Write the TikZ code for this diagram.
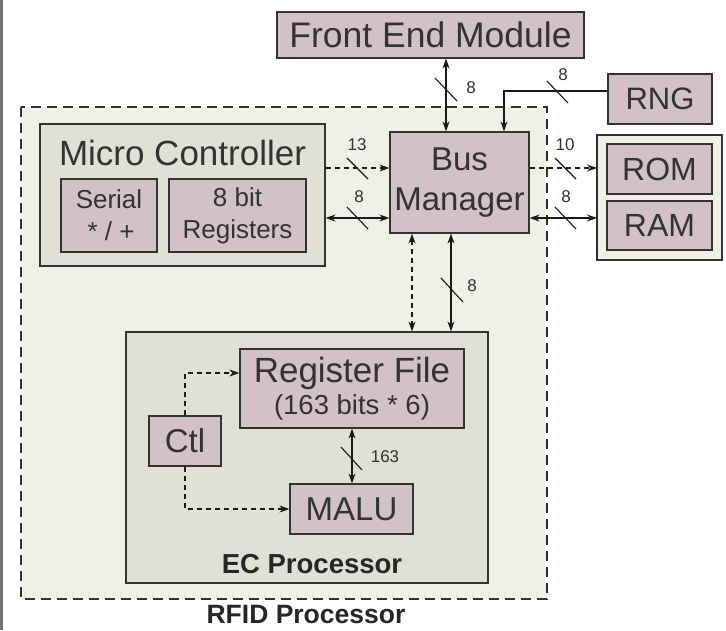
\documentclass[tikz,border=0pt]{standalone}
\usepackage{fontspec}
\setmainfont{Liberation Sans}
\usetikzlibrary{arrows.meta,calc}
\definecolor{pinkfill}{HTML}{D3C1C8}
\definecolor{greyfill}{HTML}{E0E0D5}
\definecolor{beige}{HTML}{F0F0E6}
\definecolor{edge}{HTML}{333333}
\tikzset{
  x=1pt,y=-1pt,
  pinkbox/.style={draw=edge,line width=1.2pt,fill=pinkfill,inner sep=0pt,align=center,text=black!80},
  greybox/.style={draw=edge,line width=1.2pt,fill=greyfill},
  conn/.style={draw=black!90,line width=1.1pt},
  tipboth/.style={conn,{Stealth[length=10pt,width=7pt]}-{Stealth[length=10pt,width=7pt]}},
  tipend/.style={conn,-{Stealth[length=10pt,width=7pt]}},
  dashline/.style={dash pattern=on 5pt off 4pt},
  slashmark/.style={draw=black!90,line width=1.1pt},
  wlabel/.style={font=\fontsize{17}{17}\selectfont,inner sep=0pt,text=black!80},
}
\begin{document}
\begin{tikzpicture}
\useasboundingbox (0,0) rectangle (726,630);
\fill[white] (0,0) rectangle (726,630);
\fill[black!55] (0,0) rectangle (2.5,630);
% RFID region
\draw[fill=beige,draw=edge,line width=1.3pt,dash pattern=on 10pt off 6pt] (21,107) rectangle (547,599);
\node[font=\bfseries\fontsize{26.5}{26.5}\selectfont,text=black!85,inner sep=0pt] (rfid) at (306,615) {RFID Processor};
% ROM/RAM outer
\draw[fill=beige,draw=edge,line width=1.1pt] (597,135) rectangle (722,260);
% Micro controller
\node[greybox,minimum width=285pt,minimum height=142pt,inner sep=0pt] (mc) at (182.5,195) {};
\node[font=\fontsize{35}{35}\selectfont,text=black!80] (mctitle) at (182.5,153) {Micro Controller};
\node[pinkbox,minimum width=96pt,minimum height=73pt,font=\fontsize{26}{32}\selectfont] (serial) at (109,215.5) {Serial\\ \,* / +};
\node[pinkbox,minimum width=137pt,minimum height=73pt,font=\fontsize{26}{32}\selectfont] (reg8) at (237.5,215.5) {8 bit\\Registers};
% Front end, RNG, Bus manager, ROM, RAM
\node[pinkbox,minimum width=307pt,minimum height=46pt,font=\fontsize{35.5}{35.5}\selectfont] (fem) at (430.5,35) {Front End Module};
\node[pinkbox,minimum width=104pt,minimum height=50pt,font=\fontsize{31}{31}\selectfont] (rng) at (660,99) {RNG};
\node[pinkbox,minimum width=139pt,minimum height=101pt,font=\fontsize{33}{40}\selectfont] (bm) at (459.5,182.5) {Bus\\Manager};
\node[pinkbox,minimum width=105pt,minimum height=50pt,font=\fontsize{32}{32}\selectfont] (rom) at (659.5,169) {ROM};
\node[pinkbox,minimum width=105pt,minimum height=49pt,font=\fontsize{32}{32}\selectfont] (ram) at (659.5,225.5) {RAM};
\coordinate (romram) at (597,197);
% EC processor
\node[greybox,minimum width=362pt,minimum height=251pt,inner sep=0pt] (ec) at (307,457.5) {};
\node[font=\bfseries\fontsize{27.5}{27.5}\selectfont,text=black!85] (ectitle) at (312,564) {EC Processor};
\node[pinkbox,minimum width=224pt,minimum height=79pt,font=\fontsize{35}{35}\selectfont] (rf) at (352,388.5) {Register File\\[-3pt]{\fontsize{27.5}{27.5}\selectfont (163 bits * 6)}};
\node[pinkbox,minimum width=72pt,minimum height=50pt,font=\fontsize{33}{33}\selectfont] (ctl) at (185,441) {Ctl};
\node[pinkbox,minimum width=123pt,minimum height=50pt,font=\fontsize{33}{33}\selectfont] (malu) at (351.5,509) {MALU};
% helper coordinates
\coordinate (xa) at (446,0);
\coordinate (xr) at (504,0);
\coordinate (ya) at (0,168);
\coordinate (yb) at (0,218);
\coordinate (xd) at (412,0);
\coordinate (xs) at (451,0);
\coordinate (xm) at (352,0);
\coordinate (yr) at (0,91);
\coordinate (yc) at (0,373);
% FEM <-> BM
\draw[tipboth] (xa |- fem.south) -- (xa |- bm.north);
\draw[slashmark] (435,78) -- (457,101);
\node[wlabel] (l1) at (471,88) {8};
% RNG -> BM
\draw[tipend] (rng.west |- yr) -- (xr |- yr) -- (xr |- bm.north);
\draw[slashmark] (547,81) -- (568,103);
\node[wlabel] (l2) at (563,75) {8};
% MC -> BM
\draw[tipend,dashline] (mc.east |- ya) -- (bm.west |- ya);
\draw[slashmark] (347,158) -- (368,179);
\node[wlabel] (l3) at (357,145) {13};
\draw[tipboth] (mc.east |- yb) -- (bm.west |- yb);
\draw[slashmark] (347,207) -- (368,229);
\node[wlabel] (l4) at (359,197) {8};
% BM -> ROM/RAM
\draw[tipend,dashline] (bm.east |- ya) -- (romram |- ya);
\draw[slashmark] (555,158) -- (576,179);
\node[wlabel] (l5) at (565,145) {10};
\draw[tipboth] (bm.east |- yb) -- (romram |- yb);
\draw[slashmark] (555,207) -- (576,229);
\node[wlabel] (l6) at (566,197) {8};
% BM <-> EC
\draw[tipboth,dashline] (xd |- bm.south) -- (xd |- ec.north);
\draw[tipboth] (xs |- bm.south) -- (xs |- ec.north);
\draw[slashmark] (441,278) -- (463,302);
\node[wlabel] (l7) at (472,286) {8};
% Ctl -> RF, MALU
\draw[tipend,dashline] (ctl.north) -- (ctl.north |- yc) -- (rf.west |- yc);
\draw[tipend,dashline] (ctl.south) -- (ctl.south |- malu.west) -- (malu.west);
% RF <-> MALU
\draw[tipboth] (xm |- rf.south) -- (xm |- malu.north);
\draw[slashmark] (341,447) -- (362,470);
\node[wlabel] (l8) at (385,457) {163};
\end{tikzpicture}
\end{document}
